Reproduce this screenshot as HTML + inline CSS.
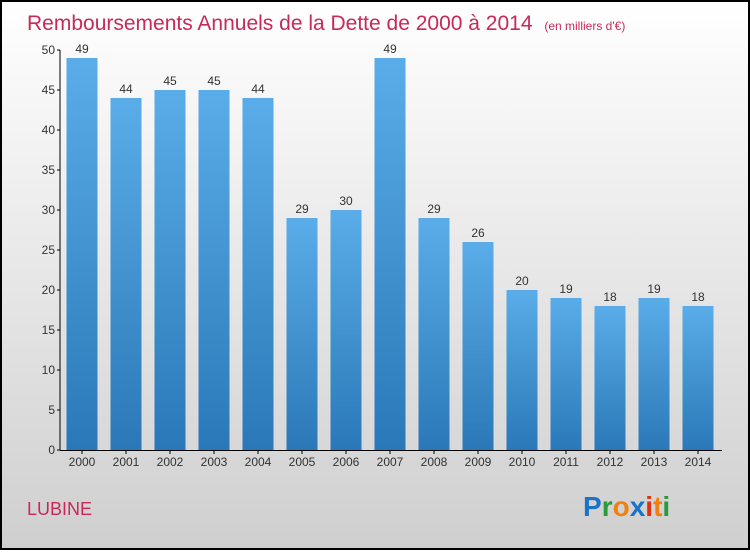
<!DOCTYPE html>
<html><head><meta charset="utf-8"><style>
body{margin:0;width:750px;height:550px;overflow:hidden;font-family:"Liberation Sans",sans-serif}
</style></head><body>
<svg id="chart" width="750" height="550" xmlns="http://www.w3.org/2000/svg">
<defs>
<linearGradient id="bg" x1="0" y1="0" x2="0" y2="1"><stop offset="0" stop-color="#ffffff"/><stop offset="1" stop-color="#cfcfcf"/></linearGradient>
<linearGradient id="bar" x1="0" y1="0" x2="0" y2="1"><stop offset="0" stop-color="#5aade8"/><stop offset="1" stop-color="#2a78b8"/></linearGradient>
</defs>
<rect x="1" y="1" width="748" height="548" fill="url(#bg)" stroke="#000" stroke-width="2"/>
<text x="27" y="30" font-size="21" fill="#c8285a">Remboursements Annuels de la Dette de 2000 à 2014 <tspan font-size="12" dx="6">(en milliers d'€)</tspan></text>
<text x="27" y="515" font-size="18" fill="#c8285a">LUBINE</text>
<g font-size="28" font-weight="bold" font-family="Liberation Sans,sans-serif">
<text x="583" y="516"><tspan fill="#1a73c8">P</tspan><tspan fill="#2a9a3a">r</tspan><tspan fill="#f08010">o</tspan><tspan fill="#1a73c8">x</tspan><tspan fill="#e03010">i</tspan><tspan fill="#f08010">t</tspan><tspan fill="#2a9a3a">i</tspan></text>
</g>
<g id="yaxis"></g><g id="bars"></g><g id="xaxis"></g>
</svg>
<script>
const categories=["2000","2001","2002","2003","2004","2005","2006","2007","2008","2009","2010","2011","2012","2013","2014"];
const values=[49,44,45,45,44,29,30,49,29,26,20,19,18,19,18];
const yTicks=[0,5,10,15,20,25,30,35,40,45,50];
const NS="http://www.w3.org/2000/svg";
const y=v=>450-v*8;
const x=i=>82+i*44;
function mk(t,a,p){const e=document.createElementNS(NS,t);for(const k in a)e.setAttribute(k,a[k]);p.appendChild(e);return e;}
const ya=document.getElementById('yaxis'),ba=document.getElementById('bars'),xa=document.getElementById('xaxis');
let l=mk('line',{x1:60,y1:y(50),x2:60,y2:y(0),stroke:'#000'},ya);


yTicks.forEach(t=>{
 const tk=mk('line',{x1:57,y1:y(t),x2:60,y2:y(t),stroke:'#000'},ya);
 
 
 const tx=mk('text',{x:55,y:y(t)+4,'text-anchor':'end','font-size':12,fill:'#333'},ya);
 tx.textContent=t;
 
 
});
let xl=mk('line',{x1:60,y1:y(0)+0.5,x2:722,y2:y(0)+0.5,stroke:'#000'},xa);


categories.forEach((c,i)=>{
 const v=values[i];
 const r=mk('rect',{x:x(i)-15.5,y:y(v),width:31,height:y(0)-y(v),fill:'url(#bar)'},ba);
 
 
 const vt=mk('text',{x:x(i),y:y(v)-5,'text-anchor':'middle','font-size':12,fill:'#333'},ba);
 vt.textContent=v;
 
 
 const tk=mk('line',{x1:x(i),y1:450,x2:x(i),y2:454,stroke:'#000'},xa);
 
 
 const xt=mk('text',{x:x(i),y:466,'text-anchor':'middle','font-size':12,fill:'#333'},xa);
 xt.textContent=c;
 
 
});
</script>
</body></html>
